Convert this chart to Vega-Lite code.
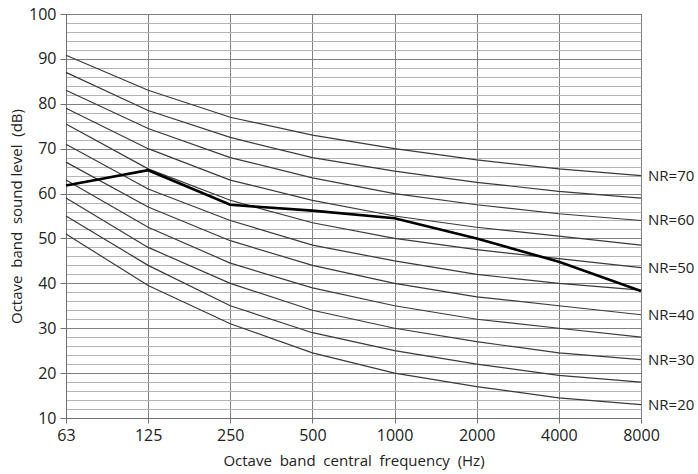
{
  "$schema": "https://vega.github.io/schema/vega-lite/v6.json",
  "autosize": "none",
  "padding": {"left": 66, "top": 14, "right": 57, "bottom": 56},
  "width": 575,
  "height": 404,
  "background": "white",
  "config": {
    "font": "Open Sans",
    "view": {"stroke": "#707070", "strokeWidth": 1}
  },
  "datasets": {
    "nr": [
      {"freq": "63", "level": 51, "curve": "NR20"}, {"freq": "125", "level": 39.5, "curve": "NR20"}, {"freq": "250", "level": 31, "curve": "NR20"}, {"freq": "500", "level": 24.5, "curve": "NR20"}, {"freq": "1000", "level": 20, "curve": "NR20"}, {"freq": "2000", "level": 17, "curve": "NR20"}, {"freq": "4000", "level": 14.5, "curve": "NR20"}, {"freq": "8000", "level": 13, "curve": "NR20"},
      {"freq": "63", "level": 55, "curve": "NR25"}, {"freq": "125", "level": 44, "curve": "NR25"}, {"freq": "250", "level": 35, "curve": "NR25"}, {"freq": "500", "level": 29, "curve": "NR25"}, {"freq": "1000", "level": 25, "curve": "NR25"}, {"freq": "2000", "level": 22, "curve": "NR25"}, {"freq": "4000", "level": 19.5, "curve": "NR25"}, {"freq": "8000", "level": 18, "curve": "NR25"},
      {"freq": "63", "level": 59, "curve": "NR30"}, {"freq": "125", "level": 48, "curve": "NR30"}, {"freq": "250", "level": 40, "curve": "NR30"}, {"freq": "500", "level": 34, "curve": "NR30"}, {"freq": "1000", "level": 30, "curve": "NR30"}, {"freq": "2000", "level": 27, "curve": "NR30"}, {"freq": "4000", "level": 24.5, "curve": "NR30"}, {"freq": "8000", "level": 23, "curve": "NR30"},
      {"freq": "63", "level": 63, "curve": "NR35"}, {"freq": "125", "level": 52.5, "curve": "NR35"}, {"freq": "250", "level": 44.5, "curve": "NR35"}, {"freq": "500", "level": 39, "curve": "NR35"}, {"freq": "1000", "level": 35, "curve": "NR35"}, {"freq": "2000", "level": 32, "curve": "NR35"}, {"freq": "4000", "level": 30, "curve": "NR35"}, {"freq": "8000", "level": 28, "curve": "NR35"},
      {"freq": "63", "level": 67, "curve": "NR40"}, {"freq": "125", "level": 57, "curve": "NR40"}, {"freq": "250", "level": 49.5, "curve": "NR40"}, {"freq": "500", "level": 44, "curve": "NR40"}, {"freq": "1000", "level": 40, "curve": "NR40"}, {"freq": "2000", "level": 37, "curve": "NR40"}, {"freq": "4000", "level": 35, "curve": "NR40"}, {"freq": "8000", "level": 33, "curve": "NR40"},
      {"freq": "63", "level": 71, "curve": "NR45"}, {"freq": "125", "level": 61, "curve": "NR45"}, {"freq": "250", "level": 54, "curve": "NR45"}, {"freq": "500", "level": 48.5, "curve": "NR45"}, {"freq": "1000", "level": 45, "curve": "NR45"}, {"freq": "2000", "level": 42, "curve": "NR45"}, {"freq": "4000", "level": 40, "curve": "NR45"}, {"freq": "8000", "level": 38.5, "curve": "NR45"},
      {"freq": "63", "level": 75.5, "curve": "NR50"}, {"freq": "125", "level": 65.5, "curve": "NR50"}, {"freq": "250", "level": 58.5, "curve": "NR50"}, {"freq": "500", "level": 53.5, "curve": "NR50"}, {"freq": "1000", "level": 50, "curve": "NR50"}, {"freq": "2000", "level": 47.5, "curve": "NR50"}, {"freq": "4000", "level": 45.5, "curve": "NR50"}, {"freq": "8000", "level": 43.5, "curve": "NR50"},
      {"freq": "63", "level": 79, "curve": "NR55"}, {"freq": "125", "level": 70, "curve": "NR55"}, {"freq": "250", "level": 63, "curve": "NR55"}, {"freq": "500", "level": 58.5, "curve": "NR55"}, {"freq": "1000", "level": 55, "curve": "NR55"}, {"freq": "2000", "level": 52.5, "curve": "NR55"}, {"freq": "4000", "level": 50.5, "curve": "NR55"}, {"freq": "8000", "level": 48.5, "curve": "NR55"},
      {"freq": "63", "level": 83, "curve": "NR60"}, {"freq": "125", "level": 74.5, "curve": "NR60"}, {"freq": "250", "level": 68, "curve": "NR60"}, {"freq": "500", "level": 63.5, "curve": "NR60"}, {"freq": "1000", "level": 60, "curve": "NR60"}, {"freq": "2000", "level": 57.5, "curve": "NR60"}, {"freq": "4000", "level": 55.5, "curve": "NR60"}, {"freq": "8000", "level": 54, "curve": "NR60"},
      {"freq": "63", "level": 87, "curve": "NR65"}, {"freq": "125", "level": 78.5, "curve": "NR65"}, {"freq": "250", "level": 72.5, "curve": "NR65"}, {"freq": "500", "level": 68, "curve": "NR65"}, {"freq": "1000", "level": 65, "curve": "NR65"}, {"freq": "2000", "level": 62.5, "curve": "NR65"}, {"freq": "4000", "level": 60.5, "curve": "NR65"}, {"freq": "8000", "level": 59, "curve": "NR65"},
      {"freq": "63", "level": 90.8, "curve": "NR70"}, {"freq": "125", "level": 83, "curve": "NR70"}, {"freq": "250", "level": 77, "curve": "NR70"}, {"freq": "500", "level": 73, "curve": "NR70"}, {"freq": "1000", "level": 70, "curve": "NR70"}, {"freq": "2000", "level": 67.5, "curve": "NR70"}, {"freq": "4000", "level": 65.5, "curve": "NR70"}, {"freq": "8000", "level": 64, "curve": "NR70"}
    ],
    "measured": [
      {"freq": "63", "level": 61.8}, {"freq": "125", "level": 65.2}, {"freq": "250", "level": 57.5}, {"freq": "500", "level": 56.2},
      {"freq": "1000", "level": 54.5}, {"freq": "2000", "level": 50}, {"freq": "4000", "level": 44.8}, {"freq": "8000", "level": 38.3}
    ],
    "labels": [
      {"freq": "8000", "level": 64, "label": "NR=70"}, {"freq": "8000", "level": 54, "label": "NR=60"},
      {"freq": "8000", "level": 43.5, "label": "NR=50"}, {"freq": "8000", "level": 33, "label": "NR=40"},
      {"freq": "8000", "level": 23, "label": "NR=30"}, {"freq": "8000", "level": 13, "label": "NR=20"}
    ]
  },
  "encoding": {
    "x": {
      "field": "freq", "type": "ordinal",
      "sort": ["63", "125", "250", "500", "1000", "2000", "4000", "8000"],
      "scale": {"type": "point", "padding": 0},
      "axis": {
        "title": "Octave\u00a0 band\u00a0 central\u00a0 frequency\u00a0 (Hz)",
        "titleFont": "Open Sans", "titleFontSize": 15, "titleFontWeight": "normal", "titleColor": "#222", "titlePadding": 10,
        "labelFont": "Open Sans", "labelFontSize": 16, "labelColor": "#222", "labelAngle": 0, "labelPadding": 4,
        "labelOverlap": false,
        "domainColor": "#707070", "tickColor": "#707070", "tickSize": 5,
        "grid": true, "gridColor": "#808080", "gridWidth": 1
      }
    },
    "y": {
      "field": "level", "type": "quantitative",
      "scale": {"domain": [10, 100], "nice": false, "zero": false},
      "axis": {
        "title": "Octave\u00a0 band\u00a0 sound level\u00a0 (dB)",
        "titleFont": "Open Sans", "titleFontSize": 15, "titleFontWeight": "normal", "titleColor": "#222", "titlePadding": 4,
        "values": [10,12,14,16,18,20,22,24,26,28,30,32,34,36,38,40,42,44,46,48,50,52,54,56,58,60,62,64,66,68,70,72,74,76,78,80,82,84,86,88,90,92,94,96,98,100],
        "labelExpr": "datum.value % 10 === 0 ? datum.label : ''",
        "labelFont": "Open Sans", "labelFontSize": 16, "labelColor": "#222", "labelPadding": 4,
        "domainColor": "#707070",
        "tickColor": "#707070",
        "tickSize": {"condition": {"test": "datum.value % 10 === 0", "value": 6}, "value": 0},
        "grid": true,
        "gridColor": {"condition": {"test": "datum.value % 10 === 0", "value": "#808080"}, "value": "#b4b4b4"},
        "gridWidth": 1
      }
    }
  },
  "layer": [
    {
      "data": {"name": "nr"},
      "mark": {"type": "line", "color": "#3a3a3a", "strokeWidth": 1.2},
      "encoding": {"detail": {"field": "curve"}}
    },
    {
      "data": {"name": "measured"},
      "mark": {"type": "line", "color": "#000000", "strokeWidth": 2.6}
    },
    {
      "data": {"name": "labels"},
      "mark": {"type": "text", "align": "left", "baseline": "middle", "dx": 7, "font": "Open Sans", "fontSize": 15, "color": "#222"},
      "encoding": {"text": {"field": "label"}}
    }
  ]
}
